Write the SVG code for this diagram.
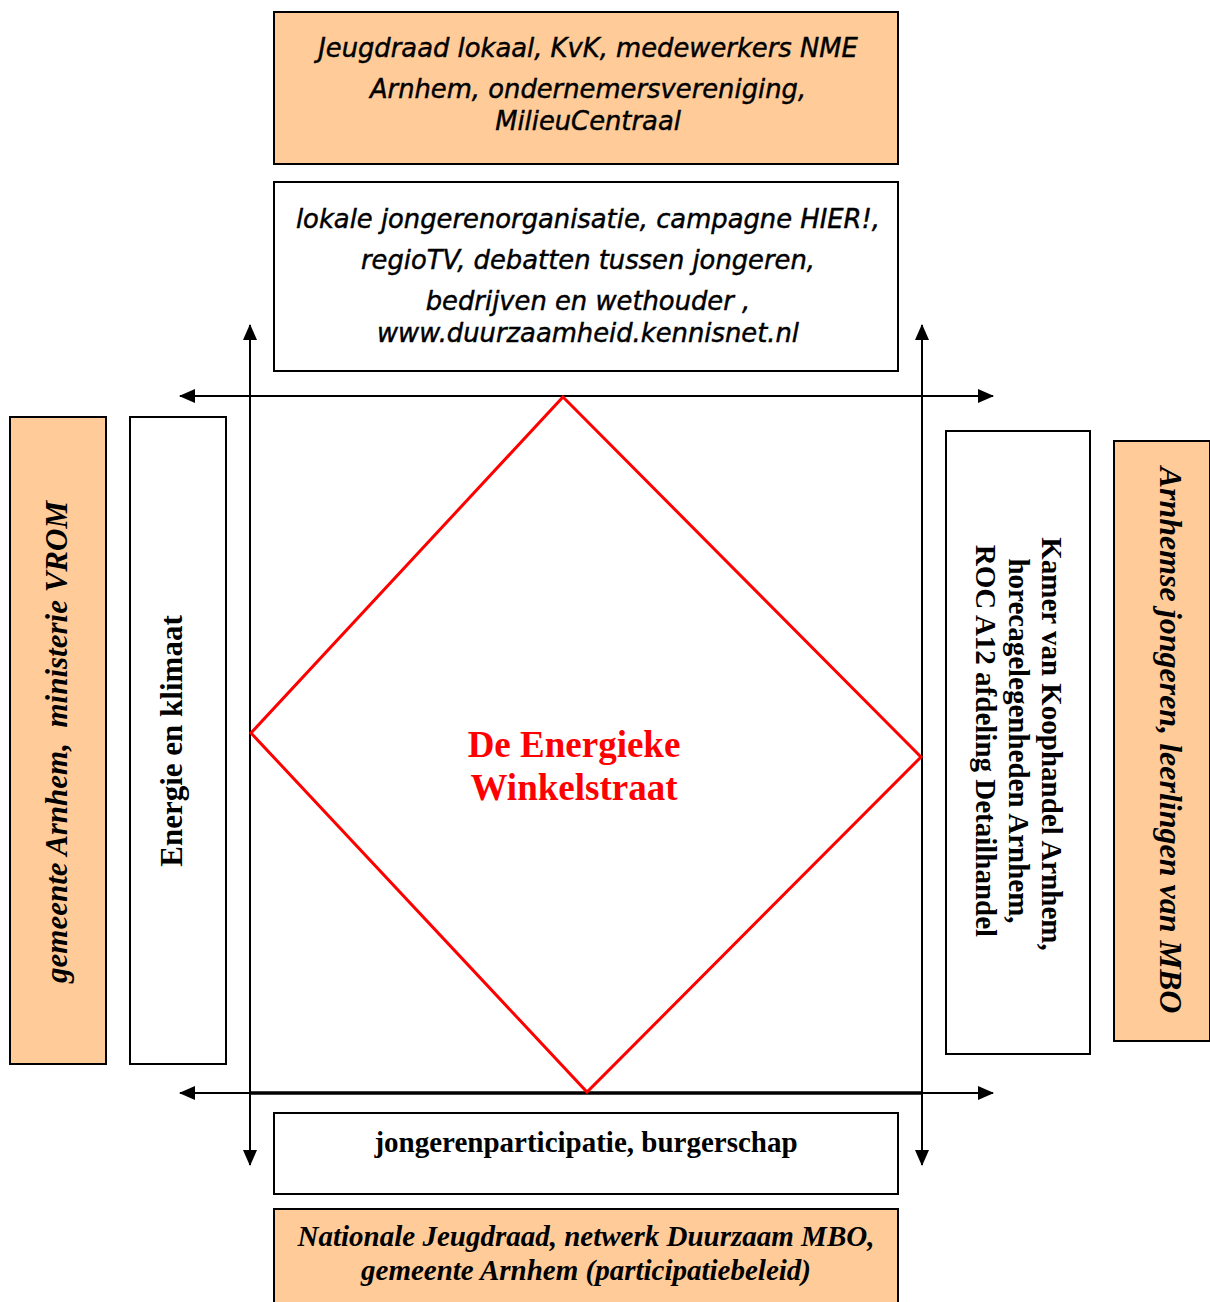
<svg xmlns="http://www.w3.org/2000/svg" width="1210" height="1302" viewBox="0 0 1210 1302">
<style>
.box{stroke:#000;stroke-width:2}
.or{fill:#FFCC99}
.wh{fill:#fff}
.sans{font-family:"DejaVu Sans",Verdana,sans-serif;font-style:italic;font-size:25.8px;fill:#000;stroke:#000;stroke-width:0.45;text-anchor:middle}
.ser{font-family:"Liberation Serif","Times New Roman",serif;font-weight:bold;font-size:29px;fill:#000;text-anchor:middle}
.it{font-style:italic}
.red{fill:#FF0000;font-size:37px}
.ln{stroke:#000;stroke-width:2;fill:none}
</style>
<defs>
<marker id="ah" viewBox="0 0 16 14" refX="15" refY="7" markerWidth="16" markerHeight="14" markerUnits="userSpaceOnUse" orient="auto">
<path d="M0,0 L16,7 L0,14 Z" fill="#000"/>
</marker>
</defs>
<rect width="1210" height="1302" fill="#fff"/>
<g id="connectors">
<line class="ln" x1="250" y1="1165" x2="250" y2="325" marker-end="url(#ah)"/>
<line class="ln" x1="250" y1="396" x2="250" y2="1165" marker-end="url(#ah)"/>
<line class="ln" x1="922" y1="1165" x2="922" y2="325" marker-end="url(#ah)"/>
<line class="ln" x1="922" y1="396" x2="922" y2="1165" marker-end="url(#ah)"/>
<line class="ln" x1="993" y1="396" x2="180" y2="396" marker-end="url(#ah)"/>
<line class="ln" x1="180" y1="396" x2="993" y2="396" marker-end="url(#ah)"/>
<line class="ln" x1="993" y1="1093" x2="180" y2="1093" marker-end="url(#ah)"/>
<line class="ln" x1="180" y1="1093" x2="993" y2="1093" marker-end="url(#ah)"/>
<line x1="250" y1="1093" x2="922" y2="1093" stroke="#000" stroke-width="3.5"/>
</g>
<g id="diamond">
<polygon points="563,397 921,757 587,1092 251,733" fill="none" stroke="#FF0000" stroke-width="3"/>
<text class="ser red" x="574" y="757">De Energieke</text>
<text class="ser red" x="574" y="800">Winkelstraat</text>
</g>
<g id="top-orange">
<rect class="box or" x="274" y="12" width="624" height="152"/>
<text class="sans" x="588" y="57">Jeugdraad lokaal, KvK, medewerkers NME</text>
<text class="sans" x="588" y="98">Arnhem, ondernemersvereniging,</text>
<text class="sans" x="588" y="130">MilieuCentraal</text>
</g>
<g id="top-white">
<rect class="box wh" x="274" y="182" width="624" height="189"/>
<text class="sans" x="588" y="228">lokale jongerenorganisatie, campagne HIER!,</text>
<text class="sans" x="588" y="269">regioTV, debatten tussen jongeren,</text>
<text class="sans" x="588" y="310">bedrijven en wethouder ,</text>
<text class="sans" x="588" y="342">www.duurzaamheid.kennisnet.nl</text>
</g>
<g id="left-orange">
<rect class="box or" x="10" y="417" width="96" height="647"/>
<text class="ser it" style="font-size:31px" transform="translate(67,742) rotate(-90)" xml:space="preserve">gemeente Arnhem,  ministerie VROM</text>
</g>
<g id="left-white">
<rect class="box wh" x="130" y="417" width="96" height="647"/>
<text class="ser" style="font-size:31px" transform="translate(182,741) rotate(-90)">Energie en klimaat</text>
</g>
<g id="right-white">
<rect class="box wh" x="946" y="431" width="144" height="623"/>
<text class="ser" transform="translate(1042,744) rotate(90)">Kamer van Koophandel Arnhem,</text>
<text class="ser" transform="translate(1009,741) rotate(90)">horecagelegenheden Arnhem,</text>
<text class="ser" transform="translate(976,741) rotate(90)">ROC A12 afdeling Detailhandel</text>
</g>
<g id="right-orange">
<rect class="box or" x="1114" y="441" width="96" height="600"/>
<text class="ser it" style="font-size:32px" transform="translate(1160,740) rotate(90)">Arnhemse jongeren, leerlingen van MBO</text>
</g>
<g id="bottom-white">
<rect class="box wh" x="274" y="1113" width="624" height="81"/>
<text class="ser" x="586" y="1152">jongerenparticipatie, burgerschap</text>
</g>
<g id="bottom-orange">
<rect class="box or" x="274" y="1209" width="624" height="100"/>
<text class="ser it" x="586" y="1246">Nationale Jeugdraad, netwerk Duurzaam MBO,</text>
<text class="ser it" x="586" y="1280">gemeente Arnhem (participatiebeleid)</text>
</g>
</svg>
